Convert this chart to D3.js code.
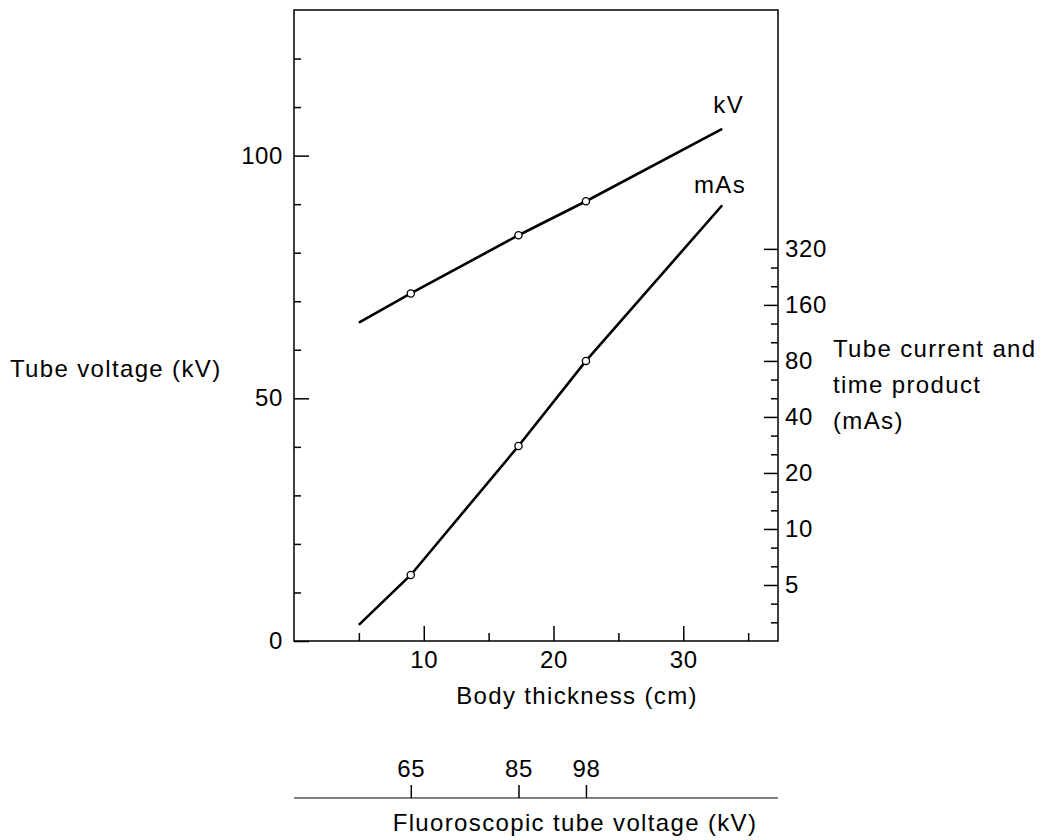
<!DOCTYPE html>
<html><head><meta charset="utf-8">
<script src="https://cdn.jsdelivr.net/npm/d3@7/dist/d3.min.js"></script>
<style>
body{margin:0;background:#fff}
text{font-family:"Liberation Sans",Arial,Helvetica,sans-serif;font-size:24px;fill:#000}
text.lbl{letter-spacing:1.35px}
.tick text{letter-spacing:0.6px}
</style>
</head><body>
<svg id="c" width="1045" height="840"></svg>
<script>
// ---- data ----
const thickness = [5, 9, 17.3, 22.5, 33];          // body thickness (cm)
const kV = [65.6, 71.6, 83.6, 90.6, 105.5];          // tube voltage (kV)
const mAs = [3.05, 5.66, 27.9, 80, 549];             // tube current-time product (mAs)
const markerIndex = [1, 2, 3];                       // points drawn with open circles
const fluoroKV = [65, 85, 98];                       // fluoroscopic tube voltage labels
const fluoroThickness = [9, 17.3, 22.5];             // their body-thickness positions
const kvTickValues = [0,10,20,30,40,50,60,70,80,90,100,110,120];
const kvLabelValues = [0, 50, 100];
const cmTickValues = [5,10,15,20,25,30,35];
const cmLabelValues = [10, 20, 30];
const mAsLabelValues = [5, 10, 20, 40, 80, 160, 320];

// ---- layout ----
const L = 294, R = 778, T = 10, B = 641;
const svg = d3.select("#c");

const x = d3.scaleLinear().domain([0, 37.3]).range([L, R]);
const yKV = d3.scaleLinear().domain([0, 130]).range([B, T]);
const yM = d3.scaleLog().base(2).domain([2.5, 6150]).range([B, T]);

// minor ticks for log axis: thirds of each doubling
const mAsMinor = [];
mAsLabelValues.forEach((v, i) => {
  [1/3, 2/3].forEach(f => {
    if (i < mAsLabelValues.length - 1) mAsMinor.push(v * Math.pow(2, f));
  });
});
mAsMinor.push(5 * Math.pow(2, -1/3), 5 * Math.pow(2, -2/3));

// frame
svg.append("rect").attr("x", L).attr("y", T).attr("width", R - L).attr("height", B - T)
  .attr("fill", "none").attr("stroke", "#000").attr("stroke-width", 1.5);

function clean(g){ g.select(".domain").remove(); g.selectAll("line").attr("stroke","#000").attr("stroke-width",1.5); g.selectAll("text").attr("font-size",null).attr("font-family",null).attr("fill","#000"); }

// left axis
svg.append("g").attr("transform", `translate(${L},0)`)
  .call(d3.axisLeft(yKV).tickValues(kvTickValues.filter(v => !kvLabelValues.includes(v))).tickSize(-7).tickFormat(""))
  .call(clean);
svg.append("g").attr("transform", `translate(${L},0)`)
  .call(d3.axisLeft(yKV).tickValues(kvLabelValues).tickSize(-15).tickPadding(11).tickFormat(d3.format("d")))
  .call(clean);

// bottom axis
svg.append("g").attr("transform", `translate(0,${B})`)
  .call(d3.axisBottom(x).tickValues(cmTickValues.filter(v => !cmLabelValues.includes(v))).tickSize(-8).tickFormat(""))
  .call(clean);
svg.append("g").attr("transform", `translate(0,${B})`)
  .call(d3.axisBottom(x).tickValues(cmLabelValues).tickSize(-15).tickPadding(10).tickFormat(d3.format("d")))
  .call(clean);

// right axis (log mAs)
svg.append("g").attr("transform", `translate(${R},0)`)
  .call(d3.axisRight(yM).tickValues(mAsMinor).tickSize(-7).tickFormat(""))
  .call(clean);
svg.append("g").attr("transform", `translate(${R},0)`)
  .call(d3.axisRight(yM).tickValues(mAsLabelValues).tickSize(-14).tickPadding(7).tickFormat(d3.format("d")))
  .call(clean);

// fluoroscopic axis
const fy = 798;
svg.append("g").attr("transform", `translate(0,${fy})`)
  .call(d3.axisTop(x).tickValues(fluoroThickness).tickSize(13).tickSizeOuter(0).tickPadding(8)
    .tickFormat((d, i) => fluoroKV[i]))
  .call(g => { g.select(".domain").attr("stroke","#000").attr("stroke-width",1.2).attr("d", `M${L},0H${R}`);
               g.selectAll("line").attr("stroke","#000").attr("stroke-width",1.5);
               g.selectAll("text").attr("font-size",null).attr("font-family",null).attr("fill","#000"); });

// lines
const lineKV = d3.line().x((d, i) => x(thickness[i])).y(d => yKV(d));
const lineM = d3.line().x((d, i) => x(thickness[i])).y(d => yM(d));
svg.append("path").attr("d", lineKV(kV)).attr("fill","none").attr("stroke","#000").attr("stroke-width",2.6);
svg.append("path").attr("d", lineM(mAs)).attr("fill","none").attr("stroke","#000").attr("stroke-width",2.6);

svg.selectAll("circle.kv").data(markerIndex).enter().append("circle")
  .attr("cx", i => x(thickness[i])).attr("cy", i => yKV(kV[i])).attr("r", 3.6)
  .attr("fill","#fff").attr("stroke","#000").attr("stroke-width",1.3);
svg.selectAll("circle.ma").data(markerIndex).enter().append("circle")
  .attr("cx", i => x(thickness[i])).attr("cy", i => yM(mAs[i])).attr("r", 3.6)
  .attr("fill","#fff").attr("stroke","#000").attr("stroke-width",1.3);

// series labels
svg.append("text").attr("class","lbl").attr("x", 744).attr("y", 113).attr("text-anchor","end").text("kV");
svg.append("text").attr("class","lbl").attr("x", 746).attr("y", 193).attr("text-anchor","end").text("mAs");

// axis titles
svg.append("text").attr("class","lbl").attr("x", 10).attr("y", 377).text("Tube voltage (kV)");
svg.append("text").attr("class","lbl").attr("x", 577).attr("y", 704).attr("text-anchor","middle").text("Body thickness (cm)");
svg.append("text").attr("class","lbl").attr("x", 575).attr("y", 831).attr("text-anchor","middle").text("Fluoroscopic tube voltage (kV)");
const rt = svg.append("text").attr("class","lbl").attr("x", 833).attr("y", 357);
["Tube current and", "time product", "(mAs)"].forEach((s, i) =>
  rt.append("tspan").attr("x", 833).attr("dy", i ? 36 : 0).text(s));
</script>
</body></html>
